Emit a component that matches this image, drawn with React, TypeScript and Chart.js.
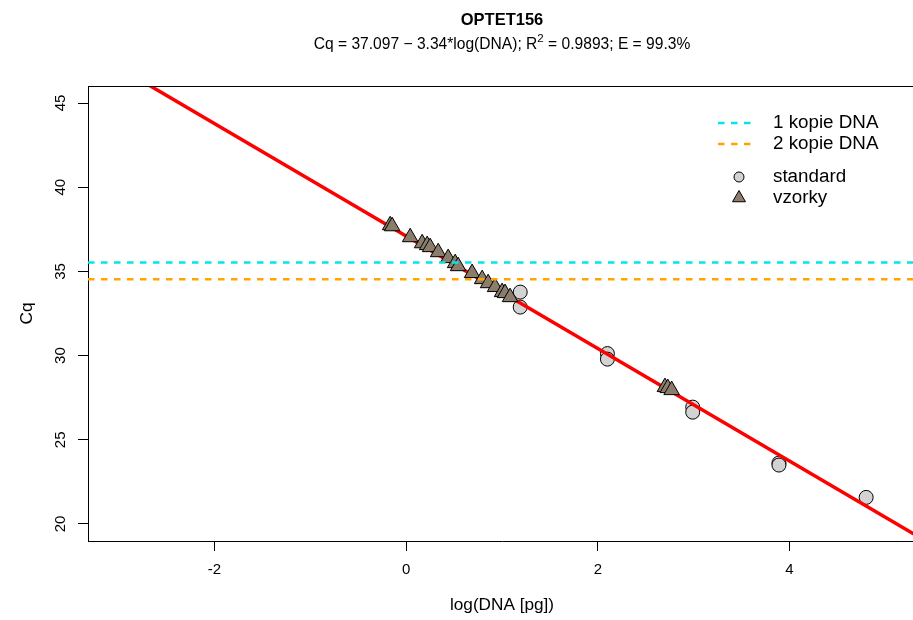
import React, { useEffect, useRef } from 'react';
import { Chart, registerables } from 'chart.js';

Chart.register(...registerables);

// ---------- data ----------
const TITLE = 'OPTET156';
const SUB_A = 'Cq = 37.097 \u2212 3.34*log(DNA); R';
const SUB_SUP = '2';
const SUB_B = ' = 0.9893; E = 99.3%';
const X_TITLE = 'log(DNA [pg])';
const Y_TITLE = 'Cq';

const INTERCEPT = 37.097;
const SLOPE = -3.34;

const CQ_1_KOPIE = 35.53;
const CQ_2_KOPIE = 34.53;

const STD_X = [1.19, 1.19, 2.1, 2.1, 2.99, 2.99, 3.89, 3.89, 4.8];
const STD_CQ = [33.77, 32.88, 30.12, 29.79, 26.94, 26.64, 23.62, 23.5, 21.58];

const SAMPLE_X = [-0.167, -0.146, 0.042, 0.167, 0.219, 0.25, 0.334, 0.438, 0.511, 0.542, 0.688, 0.793, 0.855, 0.928, 1.001, 1.032, 1.084, 2.7, 2.73, 2.77];
const SAMPLE_CQ = [37.74, 37.68, 37.03, 36.67, 36.56, 36.44, 36.14, 35.79, 35.49, 35.31, 34.9, 34.54, 34.3, 34.07, 33.77, 33.71, 33.47, 28.13, 28.07, 27.95];

const X_MIN = -3.32;
const X_MAX = 5.32;
const Y_MIN = 18.99;
const Y_MAX = 46.01;
const X_TICKS = [-2, 0, 2, 4];
const Y_TICKS = [20, 25, 30, 35, 40, 45];

const LEGEND_LINES = ['1 kopie DNA', '2 kopie DNA'];
const LEGEND_POINTS = ['standard', 'vzorky'];

const FONT = '"Liberation Sans", Arial, Helvetica, sans-serif';
const CYAN = '#00E5EE';
const ORANGE = '#FFA500';
const TRI_FILL = '#8B7D6B';
const STD_FILL = '#D3D3D3';

const CANVAS_W = 930;
const CANVAS_H = 620;

const overlayPlugin = {
  id: 'overlay',
  afterDraw(chart: any) {
    const ctx = chart.ctx as CanvasRenderingContext2D;
    const area = chart.chartArea;
    const ys = chart.scales.y;
    const cx = (area.left + area.right) / 2;
    ctx.save();
    ctx.fillStyle = '#000';

    // top & right border of the box
    ctx.strokeStyle = '#000';
    ctx.lineWidth = 1;
    ctx.beginPath();
    ctx.moveTo(area.left, area.top + 0.5);
    ctx.lineTo(area.right, area.top + 0.5);
    ctx.lineTo(area.right, area.bottom);
    ctx.stroke();

    // title
    ctx.textBaseline = 'middle';
    ctx.textAlign = 'center';
    ctx.font = `bold 16.5px ${FONT}`;
    ctx.fillText(TITLE, cx, 20);

    // subtitle with superscript
    const fMain = `15.6px ${FONT}`;
    const fSup = `11.5px ${FONT}`;
    ctx.font = fMain;
    const wA = ctx.measureText(SUB_A).width;
    const wB = ctx.measureText(SUB_B).width;
    ctx.font = fSup;
    const wS = ctx.measureText(SUB_SUP).width;
    let sx = cx - (wA + wS + wB) / 2;
    ctx.textAlign = 'left';
    ctx.font = fMain;
    ctx.fillText(SUB_A, sx, 45);
    sx += wA;
    ctx.font = fSup;
    ctx.fillText(SUB_SUP, sx, 38.5);
    sx += wS;
    ctx.font = fMain;
    ctx.fillText(SUB_B, sx, 45);

    // y tick labels (rotated)
    ctx.font = `15px ${FONT}`;
    ctx.textAlign = 'center';
    Y_TICKS.forEach((v) => {
      const py = ys.getPixelForValue(v);
      ctx.save();
      ctx.translate(61, py);
      ctx.rotate(-Math.PI / 2);
      ctx.fillText(String(v), 0, 0);
      ctx.restore();
    });

    // axis titles
    ctx.font = `17.2px ${FONT}`;
    ctx.fillText(X_TITLE, cx, 605);
    ctx.save();
    ctx.translate(27, (area.top + area.bottom) / 2);
    ctx.rotate(-Math.PI / 2);
    ctx.fillText(Y_TITLE, 0, 0);
    ctx.restore();

    // legend
    const lx0 = 718;
    const lx1 = 753;
    const tx = 773;
    const rows = [123, 144, 177, 198];
    ctx.font = `18.8px ${FONT}`;
    ctx.textAlign = 'left';
    ctx.lineWidth = 2.5;
    ctx.setLineDash([6.5, 6.5]);
    [CYAN, ORANGE].forEach((c, i) => {
      ctx.strokeStyle = c;
      ctx.beginPath();
      ctx.moveTo(lx0, rows[i]);
      ctx.lineTo(lx1, rows[i]);
      ctx.stroke();
      ctx.fillStyle = '#000';
      ctx.fillText(LEGEND_LINES[i], tx, rows[i]);
    });
    ctx.setLineDash([]);
    ctx.lineWidth = 1;
    ctx.strokeStyle = '#000';
    // circle
    ctx.beginPath();
    ctx.arc(739, rows[2], 5, 0, Math.PI * 2);
    ctx.fillStyle = STD_FILL;
    ctx.fill();
    ctx.stroke();
    // triangle
    const r = 7.5;
    ctx.beginPath();
    ctx.moveTo(739, rows[3] - r);
    ctx.lineTo(739 + r * Math.sin((2 * Math.PI) / 3), rows[3] + r / 2);
    ctx.lineTo(739 - r * Math.sin((2 * Math.PI) / 3), rows[3] + r / 2);
    ctx.closePath();
    ctx.fillStyle = TRI_FILL;
    ctx.fill();
    ctx.stroke();
    ctx.fillStyle = '#000';
    LEGEND_POINTS.forEach((t, i) => ctx.fillText(t, tx, rows[2 + i]));
    ctx.restore();
  },
};

export default function App() {
  const ref = useRef<HTMLCanvasElement | null>(null);

  useEffect(() => {
    if (!ref.current) return;
    const hline = (y: number) => [
      { x: X_MIN, y },
      { x: X_MAX, y },
    ];
    const chart = new Chart(ref.current, {
      type: 'scatter',
      data: {
        datasets: [
          {
            type: 'line',
            label: LEGEND_LINES[0],
            data: hline(CQ_1_KOPIE),
            borderColor: CYAN,
            borderWidth: 2.5,
            borderDash: [6.5, 6.5],
            pointRadius: 0,
            fill: false,
          },
          {
            type: 'line',
            label: LEGEND_LINES[1],
            data: hline(CQ_2_KOPIE),
            borderColor: ORANGE,
            borderWidth: 2.5,
            borderDash: [6.5, 6.5],
            pointRadius: 0,
            fill: false,
          },
          {
            label: LEGEND_POINTS[1],
            data: SAMPLE_X.map((x, i) => ({ x, y: SAMPLE_CQ[i] })),
            pointStyle: 'triangle',
            pointRadius: 9,
            backgroundColor: TRI_FILL,
            borderColor: '#000',
            borderWidth: 1,
          },
          {
            type: 'line',
            label: 'fit',
            data: [
              { x: X_MIN, y: INTERCEPT + SLOPE * X_MIN },
              { x: X_MAX, y: INTERCEPT + SLOPE * X_MAX },
            ],
            borderColor: '#FF0000',
            borderWidth: 3.5,
            pointRadius: 0,
            fill: false,
          },
          {
            label: LEGEND_POINTS[0],
            data: STD_X.map((x, i) => ({ x, y: STD_CQ[i] })),
            pointStyle: 'circle',
            pointRadius: 7,
            backgroundColor: STD_FILL,
            borderColor: '#000',
            borderWidth: 1,
          },
        ],
      } as any,
      options: {
        responsive: false,
        animation: false,
        layout: { padding: { top: 86, right: CANVAS_W - 916, left: 0, bottom: 0 } },
        plugins: { legend: { display: false }, tooltip: { enabled: false }, title: { display: false } },
        scales: {
          x: {
            type: 'linear',
            min: X_MIN,
            max: X_MAX,
            afterFit: (s: any) => {
              s.height = CANVAS_H - 541;
            },
            afterBuildTicks: (s: any) => {
              s.ticks = X_TICKS.map((v) => ({ value: v }));
            },
            ticks: {
              includeBounds: false,
              maxRotation: 0,
              minRotation: 0,
              padding: 10,
              color: '#000',
              font: { family: FONT, size: 15 },
            },
            grid: { display: true, drawOnChartArea: false, drawTicks: true, tickLength: 10, color: '#000', lineWidth: 1 },
            border: { display: true, color: '#000', width: 1 },
          },
          y: {
            type: 'linear',
            min: Y_MIN,
            max: Y_MAX,
            afterFit: (s: any) => {
              s.width = 88;
            },
            afterBuildTicks: (s: any) => {
              s.ticks = Y_TICKS.map((v) => ({ value: v }));
            },
            ticks: { display: false, includeBounds: false },
            grid: { display: true, drawOnChartArea: false, drawTicks: true, tickLength: 10, color: '#000', lineWidth: 1 },
            border: { display: true, color: '#000', width: 1 },
          },
        },
      } as any,
      plugins: [overlayPlugin],
    });
    return () => chart.destroy();
  }, []);

  return (
    <div style={{ position: 'fixed', left: 0, top: 0, width: 913, height: 620, overflow: 'hidden', background: '#fff' }}>
      <canvas ref={ref} width={CANVAS_W} height={CANVAS_H} style={{ display: 'block', width: CANVAS_W, height: CANVAS_H }} />
    </div>
  );
}
